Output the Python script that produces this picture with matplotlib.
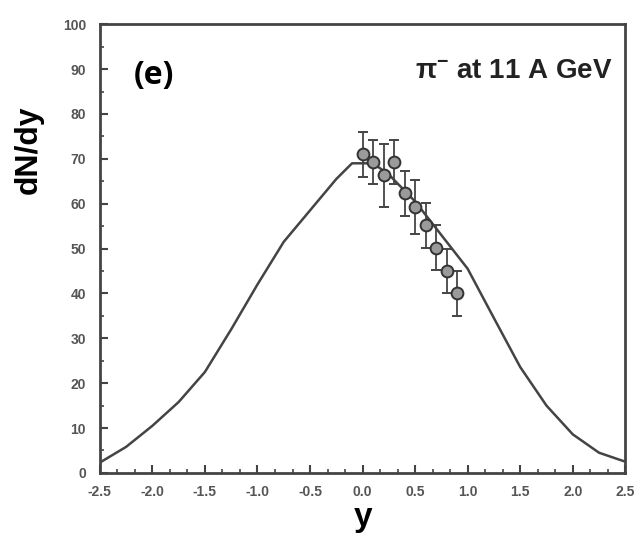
import matplotlib
matplotlib.use("Agg")
import matplotlib.pyplot as plt
from matplotlib.ticker import MultipleLocator, AutoMinorLocator, FormatStrFormatter

plt.rcParams["mathtext.fontset"] = "custom"
plt.rcParams["mathtext.rm"] = "Liberation Sans:bold"
plt.rcParams["mathtext.it"] = "Liberation Sans:bold"
plt.rcParams["mathtext.bf"] = "Liberation Sans:bold"

# Model curve
curve_y = [-2.5, -2.25, -2.0, -1.75, -1.5, -1.25, -1.0, -0.75, -0.5, -0.25, -0.1, 0.1,
           0.25, 0.5, 0.75, 1.0, 1.25, 1.5, 1.75, 2.0, 2.25, 2.5]
curve_dndy = [2.3, 5.8, 10.5, 15.8, 22.5, 32.0, 42.0, 51.5, 58.5, 65.5, 69.0, 69.0,
              66.5, 60.5, 53.0, 45.5, 34.5, 23.6, 15.0, 8.6, 4.5, 2.5]

# Data points
data_y = [0.0, 0.1, 0.2, 0.3, 0.4, 0.5, 0.6, 0.7, 0.8, 0.9]
data_dndy = [71.0, 69.3, 66.3, 69.3, 62.3, 59.2, 55.2, 50.2, 45.0, 40.0]
data_err = [5.0, 5.0, 7.0, 5.0, 5.0, 6.0, 5.0, 5.0, 5.0, 5.0]

fig = plt.figure(figsize=(6.4, 5.38), dpi=100)
ax = fig.add_axes([0.156, 0.121, 0.821, 0.834])

col = "#444444"
ax.plot(curve_y, curve_dndy, color=col, lw=1.8, zorder=2)
ax.errorbar(data_y, data_dndy, yerr=data_err, fmt="o", ms=8.5, mfc="#9a9a9a",
            mec="#333333", mew=1.4, ecolor="#444444", elinewidth=1.3,
            capsize=3.5, capthick=1.3, zorder=3)

ax.set_xlim(-2.5, 2.5)
ax.set_ylim(0, 100)
ax.xaxis.set_major_locator(MultipleLocator(0.5))
ax.xaxis.set_minor_locator(AutoMinorLocator(3))
ax.yaxis.set_major_locator(MultipleLocator(10))
ax.yaxis.set_minor_locator(AutoMinorLocator(2))
ax.xaxis.set_major_formatter(FormatStrFormatter("%.1f"))

ax.tick_params(which="both", direction="in", top=False, right=False, color=col)
ax.tick_params(which="major", length=6, width=1.5)
ax.tick_params(which="minor", length=3, width=1.2)
ax.tick_params(axis="x", which="major", pad=9)
ax.tick_params(axis="y", which="major", pad=10)
for lab in ax.get_xticklabels() + ax.get_yticklabels():
    lab.set_fontfamily("Liberation Sans")
    lab.set_fontweight("bold")
    lab.set_fontsize(10)
    lab.set_color("#555555")
for s in ax.spines.values():
    s.set_color(col)
    s.set_linewidth(2)

ax.set_xlabel("y", fontfamily="Liberation Sans", fontweight="bold", fontsize=24, labelpad=2)
ax.set_ylabel("dN/dy", fontfamily="Liberation Sans", fontweight="bold", fontsize=23)
ax.yaxis.set_label_coords(-0.107, 0.72)

ax.text(-2.18, 88.5, "(e)", fontfamily="Open Sans", fontweight="bold", fontsize=23,
        ha="left", va="center", color="black")
ax.text(2.38, 89.5, r"$\mathrm{\pi}^{\mathrm{-}}$ at 11 A GeV", fontfamily="Liberation Sans",
        fontweight="bold", fontsize=20, ha="right", va="center", color="#222222")

fig.savefig("out.png", dpi=100)
